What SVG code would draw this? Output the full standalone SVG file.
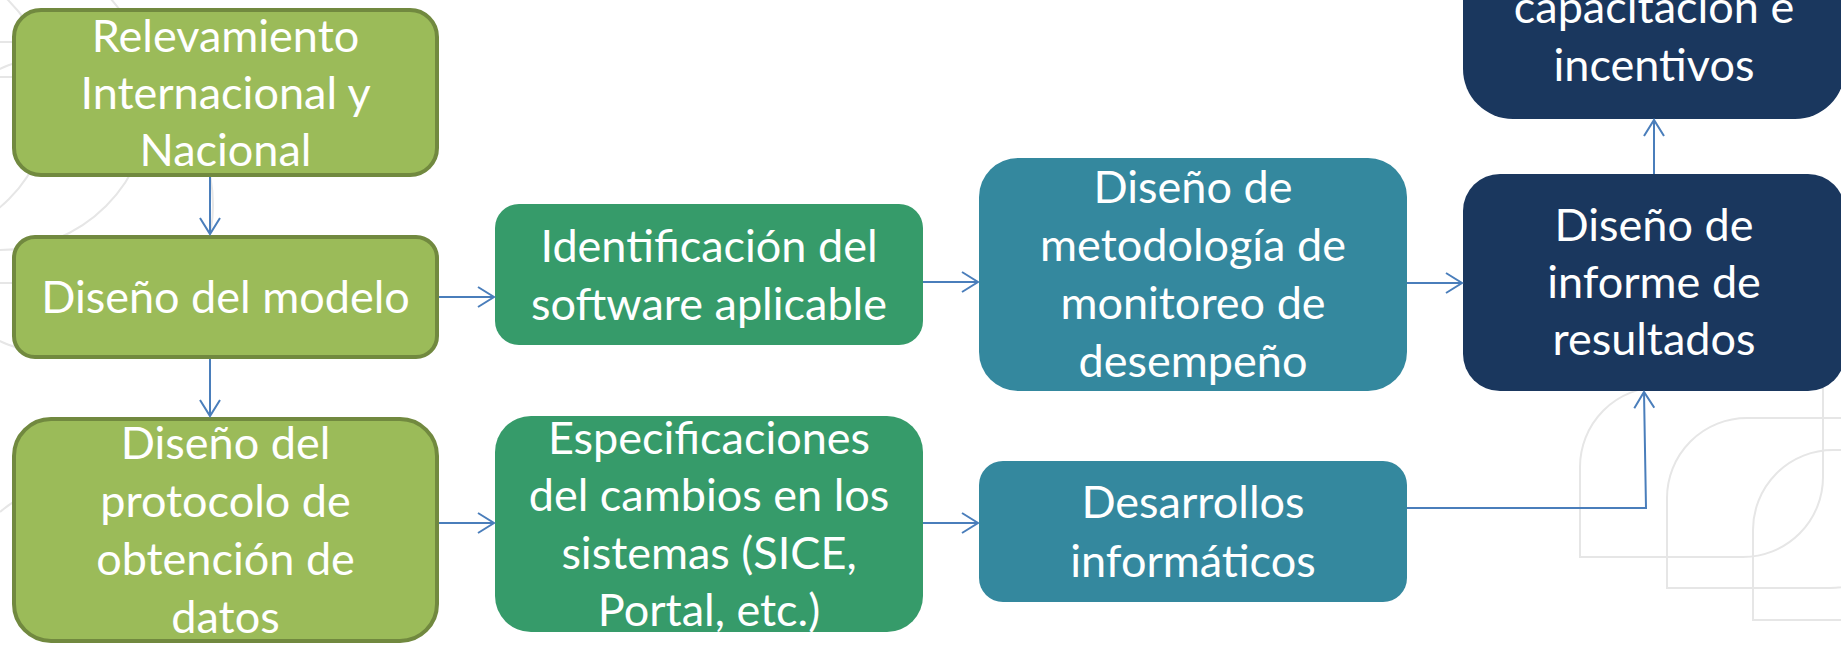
<svg xmlns="http://www.w3.org/2000/svg" width="1841" height="645" viewBox="0 0 1841 645">
  <style>
    .deco { fill: none; stroke: #E6E6E6; stroke-width: 2; }
    .lg { fill: #9BBB59; stroke: #71893F; stroke-width: 4; }
    .gr { fill: #369B6A; }
    .tl { fill: #34889E; }
    .nv { fill: #1A375E; }
    .t { font-family: Lato, "Liberation Sans", sans-serif; font-size: 45px; fill: #FFFFFF; text-anchor: middle; }
    .c { fill: none; stroke: #4A7EBB; stroke-width: 2; }
  </style>
  <defs>
    <marker id="arr" viewBox="-18 -11 20 22" refX="0" refY="0" markerWidth="20" markerHeight="22" orient="auto" markerUnits="userSpaceOnUse">
      <path d="M-16,-10 L0,0 L-16,10" fill="none" stroke="#4A7EBB" stroke-width="2"/>
    </marker>
  </defs>
  <rect width="1841" height="645" fill="#FFFFFF"/>
  <g id="background">
    <circle class="deco" cx="0" cy="100" r="150"/>
    <circle class="deco" cx="63" cy="205" r="150"/>
    <circle class="deco" cx="-90" cy="100" r="140"/>
    <line class="deco" x1="0" y1="42" x2="20" y2="42"/>
    <line class="deco" x1="0" y1="77" x2="20" y2="77"/>
    <line class="deco" x1="0" y1="283" x2="20" y2="283"/>
    <path class="deco" d="M0,512 Q14,500 32,492"/>
    <path class="deco" d="M1580,557 L1580,467 A80,80 0 0 1 1660,387 L1823,387 L1823,477 A80,80 0 0 1 1743,557 Z"/>
    <path class="deco" d="M1667,588 L1667,498 A80,80 0 0 1 1747,418 L1910,418 L1910,508 A80,80 0 0 1 1830,588 Z"/>
    <path class="deco" d="M1753,620 L1753,530 A80,80 0 0 1 1833,450 L1996,450 L1996,540 A80,80 0 0 1 1916,620 Z"/>
  </g>
  <g id="n1">
    <rect class="lg" x="14" y="10" width="423" height="165" rx="27"/>
    <text class="t" x="225.5" y="52">Relevamiento</text>
    <text class="t" x="225.5" y="109">Internacional y</text>
    <text class="t" x="225.5" y="166">Nacional</text>
  </g>
  <g id="n2">
    <rect class="lg" x="14" y="237" width="423" height="120" rx="21"/>
    <text class="t" x="225.5" y="313">Diseño del modelo</text>
  </g>
  <g id="n3">
    <rect class="lg" x="14" y="419" width="423" height="222" rx="37"/>
    <text class="t" x="225.5" y="459">Diseño del</text>
    <text class="t" x="225.5" y="517">protocolo de</text>
    <text class="t" x="225.5" y="575">obtención de</text>
    <text class="t" x="225.5" y="633">datos</text>
  </g>
  <g id="n4">
    <rect class="gr" x="495" y="204" width="428" height="141" rx="24"/>
    <text class="t" x="709" y="262">Identificación del</text>
    <text class="t" x="709" y="320">software aplicable</text>
  </g>
  <g id="n5">
    <rect class="gr" x="495" y="416" width="428" height="216" rx="36"/>
    <text class="t" x="709" y="454">Especificaciones</text>
    <text class="t" x="709" y="511">del cambios en los</text>
    <text class="t" x="709" y="569">sistemas (SICE,</text>
    <text class="t" x="709" y="626">Portal, etc.)</text>
  </g>
  <g id="n6">
    <rect class="tl" x="979" y="158" width="428" height="233" rx="39"/>
    <text class="t" x="1193" y="203">Diseño de</text>
    <text class="t" x="1193" y="261">metodología de</text>
    <text class="t" x="1193" y="319">monitoreo de</text>
    <text class="t" x="1193" y="377">desempeño</text>
  </g>
  <g id="n7">
    <rect class="tl" x="979" y="461" width="428" height="141" rx="24"/>
    <text class="t" x="1193" y="518">Desarrollos</text>
    <text class="t" x="1193" y="577">informáticos</text>
  </g>
  <g id="n8">
    <rect class="nv" x="1463" y="174" width="382" height="217" rx="37"/>
    <text class="t" x="1654" y="241">Diseño de</text>
    <text class="t" x="1654" y="298">informe de</text>
    <text class="t" x="1654" y="355">resultados</text>
  </g>
  <g id="n9">
    <rect class="nv" x="1463" y="-180" width="382" height="299" rx="50"/>
    <text class="t" x="1654" y="23">capacitación e</text>
    <text class="t" x="1654" y="81">incentivos</text>
  </g>
  <g id="connectors">
    <line class="c" x1="210" y1="177" x2="210" y2="234" marker-end="url(#arr)"/>
    <line class="c" x1="210" y1="359" x2="210" y2="416" marker-end="url(#arr)"/>
    <line class="c" x1="439" y1="297" x2="494" y2="297" marker-end="url(#arr)"/>
    <line class="c" x1="439" y1="523" x2="494" y2="523" marker-end="url(#arr)"/>
    <line class="c" x1="923" y1="282" x2="978" y2="282" marker-end="url(#arr)"/>
    <line class="c" x1="923" y1="523" x2="978" y2="523" marker-end="url(#arr)"/>
    <line class="c" x1="1407" y1="283" x2="1462" y2="283" marker-end="url(#arr)"/>
    <polyline class="c" points="1407,508 1646,508 1644,392" marker-end="url(#arr)"/>
    <line class="c" x1="1654" y1="174" x2="1654" y2="120" marker-end="url(#arr)"/>
  </g>
</svg>
